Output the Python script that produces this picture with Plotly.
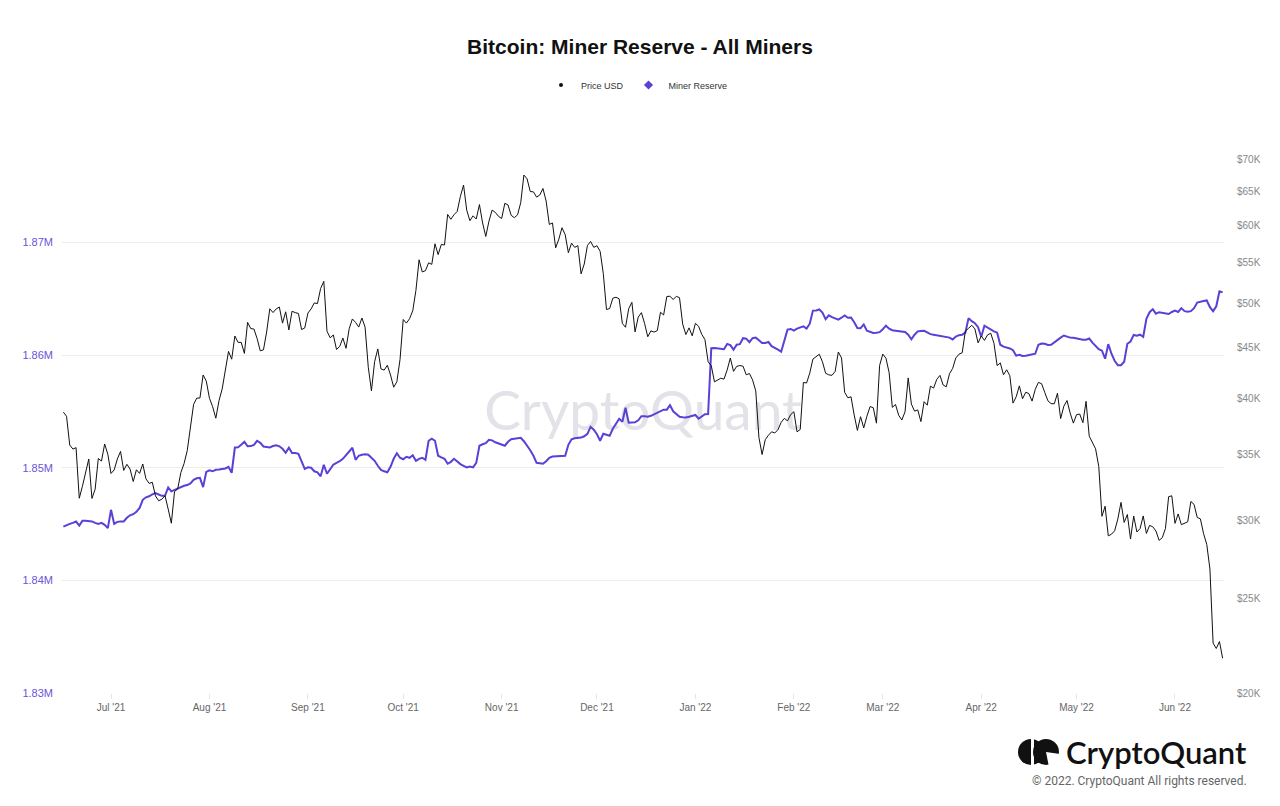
import pandas as pd
import plotly.graph_objects as go

# Daily data, 2021-06-16 .. 2022-06-16
start_date = "2021-06-16"

price_usd = [
    # Jun '21 (16-30)
    38700, 38324, 35820, 35484, 35600, 31608, 32510, 33678, 34663, 31595,
    32284, 34700, 34494, 35911, 35045,
    # Jul '21
    33504, 33786, 34669, 35287, 33747, 34235, 33855, 32877, 33799, 33510,
    34260, 33087, 32730, 32820, 31781, 31421, 31533, 31796, 30817, 29807,
    32110, 32314, 33582, 34292, 35350, 37337, 39407, 39996, 40009, 42236,
    41626,
    # Aug '21
    39975, 39201, 38153, 39747, 40870, 42858, 44634, 43829, 46286, 45596,
    45594, 44429, 47794, 47097, 47050, 46004, 44696, 44801, 46718, 49340,
    48905, 49322, 49546, 47707, 48993, 46942, 49059, 48897, 48807, 46991,
    47166,
    # Sep '21
    48848, 49327, 50026, 49944, 51754, 52633, 46811, 46091, 46392, 44843,
    45161, 46063, 44963, 47093, 48177, 47783, 47268, 48279, 47261, 43012,
    40693, 43574, 44896, 42840, 42717, 43208, 42236, 41034, 41564, 43791,
    # Oct '21
    48116, 47711, 48199, 49113, 51515, 55361, 53805, 53967, 54968, 54772,
    57484, 56041, 57401, 57322, 61593, 60892, 61553, 62026, 64262, 65993,
    62210, 60692, 61393, 60931, 63039, 60364, 58483, 60622, 62228, 61888,
    61319,
    # Nov '21
    61005, 63226, 62970, 61453, 61125, 61528, 63327, 67566, 66971, 64996,
    64949, 64155, 64470, 65467, 63557, 60162, 60369, 56942, 58120, 59697,
    58730, 56289, 57570, 57005, 57230, 53570, 54816, 57249, 57806, 57005,
    # Dec '21
    57229, 56477, 53598, 49254, 49369, 50582, 50701, 50505, 47672, 47243,
    49362, 50098, 46737, 48379, 48896, 47666, 46203, 46848, 46708, 46881,
    48937, 48629, 50784, 50822, 50429, 50809, 50640, 47588, 46444, 47178,
    46307,
    # Jan '22
    47686, 47345, 46459, 45897, 43569, 43161, 41558, 41734, 41912, 41821,
    42736, 43949, 42592, 43099, 43177, 43114, 42250, 42375, 41744, 40681,
    36457, 35030, 36277, 36654, 36954, 36852, 37138, 37784, 38138, 37917,
    38483,
    # Feb '22
    38743, 36952, 37154, 41500, 41441, 42412, 43840, 44118, 44338, 43565,
    42407, 42244, 42197, 42586, 44575, 43961, 40538, 40030, 40122, 38431,
    37075, 38286, 37296, 38332, 39214, 39105, 37709, 43193,
    # Mar '22
    44355, 43925, 42452, 39137, 39400, 38420, 37988, 38730, 41941, 39439,
    38794, 38904, 37850, 39666, 39338, 41143, 40951, 41801, 42190, 41247,
    41077, 42358, 42893, 43960, 44349, 44500, 46821, 47128, 47465, 47063,
    45539,
    # Apr '22
    46282, 45811, 46407, 46580, 45498, 43170, 43444, 42252, 42753, 42159,
    39531, 40128, 41166, 39936, 40553, 40424, 39717, 40827, 41503, 41375,
    40528, 39741, 39478, 39470, 40458, 38117, 39241, 39773, 38610, 37714,
    # May '22
    38470, 38529, 37751, 39698, 36575, 36040, 35501, 34059, 30296, 31022,
    28936, 29047, 29283, 30101, 31305, 29862, 30425, 28720, 30314, 29200,
    29432, 30323, 29098, 29655, 29562, 29267, 28627, 28814, 29445, 31726,
    31792,
    # Jun '22 (1-16)
    29799, 30467, 29704, 29832, 29906, 31371, 31155, 30215, 30112, 29083,
    28360, 26762, 22487, 22206, 22572, 21700,
]

# Miner reserve, thousand BTC
miner_reserve_k = [
    1844.78, 1844.93, 1845.02, 1845.11, 1845.23, 1844.87, 1845.29, 1845.29, 1845.29, 1845.24,
    1845.11, 1845.02, 1845.11, 1844.93, 1844.64, 1846.27, 1845.02, 1845.20, 1845.23, 1845.23,
    1845.56, 1845.78, 1845.88, 1846.09, 1846.44, 1847.16, 1847.38, 1847.47, 1847.64, 1847.75,
    1847.63, 1847.51, 1847.51, 1848.25, 1847.91, 1848.04, 1848.20, 1848.29, 1848.40, 1848.47,
    1848.62, 1848.93, 1849.07, 1849.11, 1848.28, 1849.64, 1849.78, 1849.69, 1849.82, 1849.85,
    1849.88, 1849.94, 1850.09, 1849.56, 1851.80, 1851.83, 1852.04, 1852.31, 1851.91, 1851.93,
    1852.04, 1852.40, 1852.22, 1851.89, 1851.85, 1851.81, 1851.93, 1852.00, 1851.91, 1851.69,
    1851.33, 1851.78, 1851.31, 1851.31, 1851.24, 1850.53, 1849.91, 1850.04, 1850.00, 1849.69,
    1849.60, 1849.24, 1850.27, 1849.47, 1849.87, 1850.27, 1850.44, 1850.58, 1850.80, 1851.11,
    1851.47, 1851.78, 1850.71, 1851.07, 1851.16, 1851.20, 1851.16, 1850.93, 1850.62, 1850.18,
    1849.82, 1849.69, 1849.60, 1850.09, 1850.80, 1851.29, 1850.89, 1850.76, 1850.98, 1850.89,
    1851.11, 1850.62, 1850.80, 1850.89, 1850.71, 1852.40, 1852.58, 1852.40, 1851.07, 1850.93,
    1850.80, 1850.36, 1850.53, 1850.80, 1850.53, 1850.33, 1850.18, 1850.03, 1850.12, 1850.04,
    1850.44, 1851.96, 1852.09, 1852.18, 1852.49, 1852.44, 1852.27, 1852.18, 1852.04, 1851.96,
    1852.31, 1852.53, 1852.58, 1852.62, 1852.67, 1852.36, 1852.00, 1851.56, 1851.07, 1850.44,
    1850.40, 1850.36, 1850.58, 1850.89, 1851.00, 1851.02, 1851.04, 1851.05, 1851.07, 1852.04,
    1852.53, 1852.63, 1852.67, 1852.68, 1852.80, 1853.02, 1853.64, 1853.38, 1852.98, 1852.40,
    1853.02, 1852.93, 1852.84, 1853.47, 1853.96, 1854.36, 1854.09, 1855.33, 1854.00, 1854.00,
    1854.04, 1854.22, 1854.58, 1854.58, 1854.53, 1854.62, 1854.74, 1854.89, 1855.02, 1855.16,
    1855.16, 1855.56, 1855.02, 1854.80, 1854.53, 1854.49, 1854.47, 1854.53, 1854.62, 1854.69,
    1854.36, 1854.58, 1854.76, 1854.77, 1860.62, 1860.63, 1860.58, 1860.53, 1860.53, 1860.99,
    1860.89, 1860.49, 1860.93, 1860.98, 1861.51, 1861.47, 1861.16, 1861.51, 1861.56, 1861.33,
    1861.08, 1861.08, 1861.17, 1860.80, 1860.67, 1860.49, 1860.31, 1861.38, 1862.27, 1862.33,
    1862.18, 1862.36, 1862.46, 1862.56, 1862.36, 1862.80, 1863.96, 1863.97, 1864.06, 1863.78,
    1863.20, 1863.54, 1863.38, 1863.26, 1863.16, 1863.33, 1863.53, 1863.33, 1863.35, 1862.93,
    1862.41, 1862.40, 1862.73, 1862.18, 1862.07, 1861.97, 1862.00, 1862.05, 1862.31, 1862.62,
    1862.36, 1862.22, 1862.18, 1862.12, 1862.06, 1862.06, 1861.82, 1861.42, 1861.82, 1862.12,
    1862.15, 1862.16, 1862.02, 1861.87, 1861.82, 1861.78, 1861.72, 1861.66, 1861.61, 1861.56,
    1861.40, 1861.66, 1861.78, 1861.82, 1862.00, 1863.29, 1863.02, 1862.84, 1862.49, 1861.64,
    1862.62, 1862.44, 1862.27, 1862.11, 1862.00, 1860.93, 1860.76, 1860.68, 1860.60, 1860.44,
    1859.96, 1860.04, 1859.93, 1859.96, 1860.02, 1860.08, 1860.13, 1860.93, 1861.04, 1861.02,
    1860.91, 1860.93, 1861.16, 1861.33, 1861.56, 1861.75, 1861.64, 1861.56, 1861.54, 1861.49,
    1861.40, 1861.38, 1861.38, 1861.48, 1861.11, 1860.84, 1860.53, 1860.40, 1859.69, 1860.98,
    1860.13, 1859.51, 1859.11, 1859.11, 1859.42, 1861.02, 1861.22, 1861.80, 1861.73, 1861.82,
    1861.64, 1863.24, 1863.82, 1864.09, 1863.69, 1863.82, 1863.76, 1863.69, 1863.66, 1863.84,
    1863.96, 1863.84, 1864.18, 1863.91, 1863.87, 1863.91, 1864.18, 1864.67, 1864.76, 1864.81,
    1864.86, 1864.27, 1863.91, 1864.34, 1865.67, 1865.58,
]

reserve_ticks = [1830000, 1840000, 1850000, 1860000, 1870000, 1880000]
reserve_tick_labels = ["1.83M", "1.84M", "1.85M", "1.86M", "1.87M", ""]
price_ticks = [20000, 25000, 30000, 35000, 40000, 45000, 50000, 55000, 60000, 65000, 70000]
price_tick_labels = ["$20K", "$25K", "$30K", "$35K", "$40K", "$45K", "$50K",
                     "$55K", "$60K", "$65K", "$70K"]

dates = pd.date_range(start_date, periods=len(price_usd), freq="D")
reserve = [v * 1000 for v in miner_reserve_k]

PURPLE = "#5b3fd6"

# page sits inside the default 8px body margin
OFF = 8
W, H = 1264, 790
# plot area, in page pixels
L, R, T, B = 62, 1224, 130, 693


def px(x):
    return (x - L) / (R - L)


def py(y):
    return (B - y) / (B - T)


fig = go.Figure()

fig.add_trace(go.Scatter(x=dates, y=reserve, mode="lines", name="Miner Reserve",
                         line=dict(color=PURPLE, width=2), yaxis="y", showlegend=False))
fig.add_trace(go.Scatter(x=dates, y=price_usd, mode="lines", name="Price USD",
                         line=dict(color="#111111", width=1), yaxis="y2", showlegend=False))

# legend entries (dot / diamond markers)
fig.add_trace(go.Scatter(x=[None], y=[None], mode="markers", name="Price USD",
                         marker=dict(symbol="circle", size=4, color="#111111")))
fig.add_trace(go.Scatter(x=[None], y=[None], mode="markers", name="Miner Reserve",
                         marker=dict(symbol="diamond", size=7, color=PURPLE)))

shapes = [
    # watermark
    dict(type="rect", xref="paper", yref="paper", x0=0.3, x1=0.7, y0=py(432), y1=py(384),
         line=dict(width=0), fillcolor="rgba(0,0,0,0)", layer="below",
         label=dict(text="CryptoQuant", font=dict(size=55, color="#e2e2e8", family="Lato"))),
    # logo icon
    dict(type="circle", xref="paper", yref="paper", x0=px(1018), x1=px(1044),
         y0=py(765), y1=py(739), fillcolor="#111111", line=dict(width=0)),
    dict(type="rect", xref="paper", yref="paper", x0=px(1031), x1=px(1034),
         y0=py(766), y1=py(738), fillcolor="white", line=dict(width=0)),
    dict(type="circle", xref="paper", yref="paper", x0=px(1033), x1=px(1059),
         y0=py(765), y1=py(739), fillcolor="#111111", line=dict(width=0)),
    dict(type="path", xref="paper", yref="paper",
         path=f"M {px(1046)},{py(752)} L {px(1060)},{py(754)} L {px(1060)},{py(767)} "
              f"L {px(1049)},{py(767)} Z",
         fillcolor="white", line=dict(width=0)),
]

annotations = [
    dict(text="CryptoQuant", xref="paper", yref="paper", x=px(1249), y=py(752),
         xanchor="right", yanchor="middle", showarrow=False,
         font=dict(size=31, color="#111111", family="Lato", weight=600)),
    dict(text="© 2022. CryptoQuant All rights reserved.", xref="paper", yref="paper",
         x=px(1249), y=py(781), xanchor="right", yanchor="middle", showarrow=False,
         font=dict(size=12, color="#666666", family="Roboto")),
]

fig.update_layout(
    width=W, height=H,
    paper_bgcolor="white", plot_bgcolor="white",
    margin=dict(l=L - OFF, r=W - (R - OFF), t=T - OFF, b=H - (B - OFF)),
    font=dict(family="Liberation Sans, Arial, sans-serif", color="#333333"),
    title=dict(text="<b>Bitcoin: Miner Reserve - All Miners</b>", x=0.5, xanchor="center",
               y=1 - (47 - OFF) / H, yanchor="middle", font=dict(size=21, color="#111111")),
    legend=dict(orientation="h", x=px(637), xanchor="center", y=py(85), yanchor="middle",
                font=dict(size=9, color="#333333"), itemwidth=30),
    xaxis=dict(range=["2021-06-15 13:40", "2022-06-16 10:20"], dtick="M1",
               tickformat="%b '%y", showgrid=False, zeroline=False, showline=False,
               ticks="outside", ticklen=5, tickcolor="#e6e6e6",
               tickfont=dict(size=10, color="#666666")),
    yaxis=dict(range=[1830000, 1880000], tickvals=reserve_ticks, ticktext=reserve_tick_labels,
               showgrid=True, gridcolor="#ececec", zeroline=False, showline=False,
               tickfont=dict(size=11, color="#6a55d8"), ticklabelstandoff=8),
    yaxis2=dict(type="log", overlaying="y", side="right",
                range=[4.30103, 4.8757], tickvals=price_ticks, ticktext=price_tick_labels,
                showgrid=False, zeroline=False, showline=False,
                tickfont=dict(size=10, color="#888888"), ticklabelstandoff=12),
    shapes=shapes,
    annotations=annotations,
    hovermode="x unified",
)

fig.write_html("out.html")
